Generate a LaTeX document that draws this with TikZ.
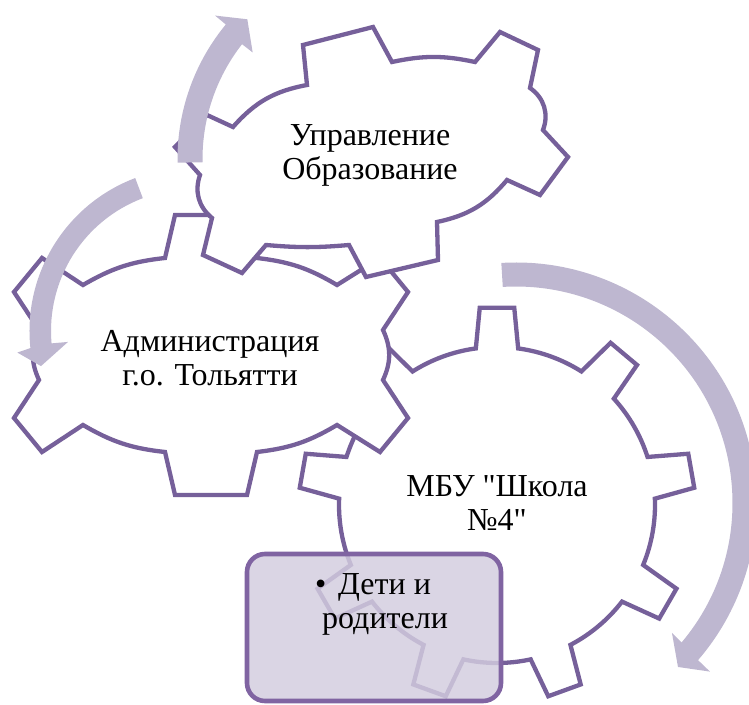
\documentclass[tikz,border=0pt]{standalone}
\usepackage{fontspec}
\setmainfont{Liberation Serif}
\definecolor{gearc}{RGB}{118,96,154}
\definecolor{arrc}{RGB}{190,183,208}
\definecolor{boxf}{RGB}{211,205,223}
\definecolor{boxb}{RGB}{128,100,162}
\newcommand\sq{\XeTeXglyph\XeTeXcharglyph"22\relax}
\begin{document}
\begin{tikzpicture}[x=1pt,y=1pt,
  gear/.style={draw=gearc, line width=4.3pt, fill=white, line join=miter},
  arr/.style={fill=arrc, draw=none},
  txt/.style={font=\fontsize{32}{34}\selectfont, align=center, inner sep=0pt},
  boxst/.style={draw=boxb, line width=4.6pt, fill=boxf, fill opacity=0.83, rounded corners=18pt, minimum width=254pt, minimum height=147pt, inner sep=0pt}
]
\useasboundingbox (0,0) rectangle (749,704);

% big gear (MBU)
\begin{scope}[shift={(497,199)}]
\draw[gear] (97.7:158) \foreach \a in {90,50,...,-230} { -- (\a+7.7:158) -- (\a+5:198) -- (\a-5:198) -- (\a-7.7:158) arc[start angle=\a-7.7, end angle=\a-32.3, radius=158] } -- cycle;
\end{scope}
\node[txt] (mbu) at (497,201) {МБУ \sq Школа\\№4\sq};

% administration gear
\draw[gear] (165,446) -- (175,489) -- (247,489) -- (257,446) to[bend left=12] (337,419) -- (380,446) -- (408,412) -- (383,374) to[bend left=25] (383,324) -- (408,286) -- (380,252) -- (337,279) to[bend left=12] (257,252) -- (247,209) -- (175,209) -- (165,252) to[bend left=12] (83,279) -- (42,252) -- (14,286) -- (39,324) to[bend left=25] (39,374) -- (14,412) -- (42,446) -- (83,419) to[bend left=12] (165,446) -- cycle;
\node[txt] (adm) at (210,346) {Администрация\\г.о. Тольятти};

% upravlenie gear
\draw[gear] (233,577) to[bend left=19] (307,619) -- (303,659) -- (373,677) -- (392,642) to[bend left=12] (475,642) -- (500,672) -- (538,654) -- (530,616) to[bend left=38] (543,574) -- (568,547) -- (540,509) -- (507,524) to[bend left=19] (437,482) -- (438,444) -- (366,427) -- (349,459) to[bend left=5] (266,459) -- (242,431) -- (203,449) -- (212,486) to[bend left=35] (200,529) -- (175,557) -- (207,589) -- cycle;
\node[txt] (upr) at (370,549) {Управление\\Образование};

% arrows
\begin{scope}[shift={(389,545)}]
\fill[arr] (181:211.5) arc[start angle=181, end angle=140.5, radius=211.5] -- (140.5:225.5) -- (135.4:199) -- (142:173) -- (142:186.5) arc[start angle=142, end angle=181, radius=186.5] -- cycle;
\end{scope}
\begin{scope}[shift={(193,373)}]
\fill[arr] (110.7:163.5) arc[start angle=110.7, end angle=186, radius=163.5] -- (187:177) -- (193:156) -- (185:125.5) -- (185:142) arc[start angle=185, end angle=110.7, radius=142] -- cycle;
\end{scope}
\begin{scope}[shift={(516,201)}]
\fill[arr] (93.5:240.5) arc[start angle=93.5, end angle=-40.8, radius=240.5] -- (-41:257) -- (-45.35:230.5) -- (-39.8:203) -- (-40.1:216.5) arc[start angle=-40.1, end angle=93.5, radius=216.5] -- cycle;
\end{scope}

% box
\node[boxst] (box) at (374,76.5) {};
\node[txt] (kids) at (373,100) {•\hspace{12pt}Дети и\\\hspace*{24pt}родители};
\end{tikzpicture}
\end{document}
